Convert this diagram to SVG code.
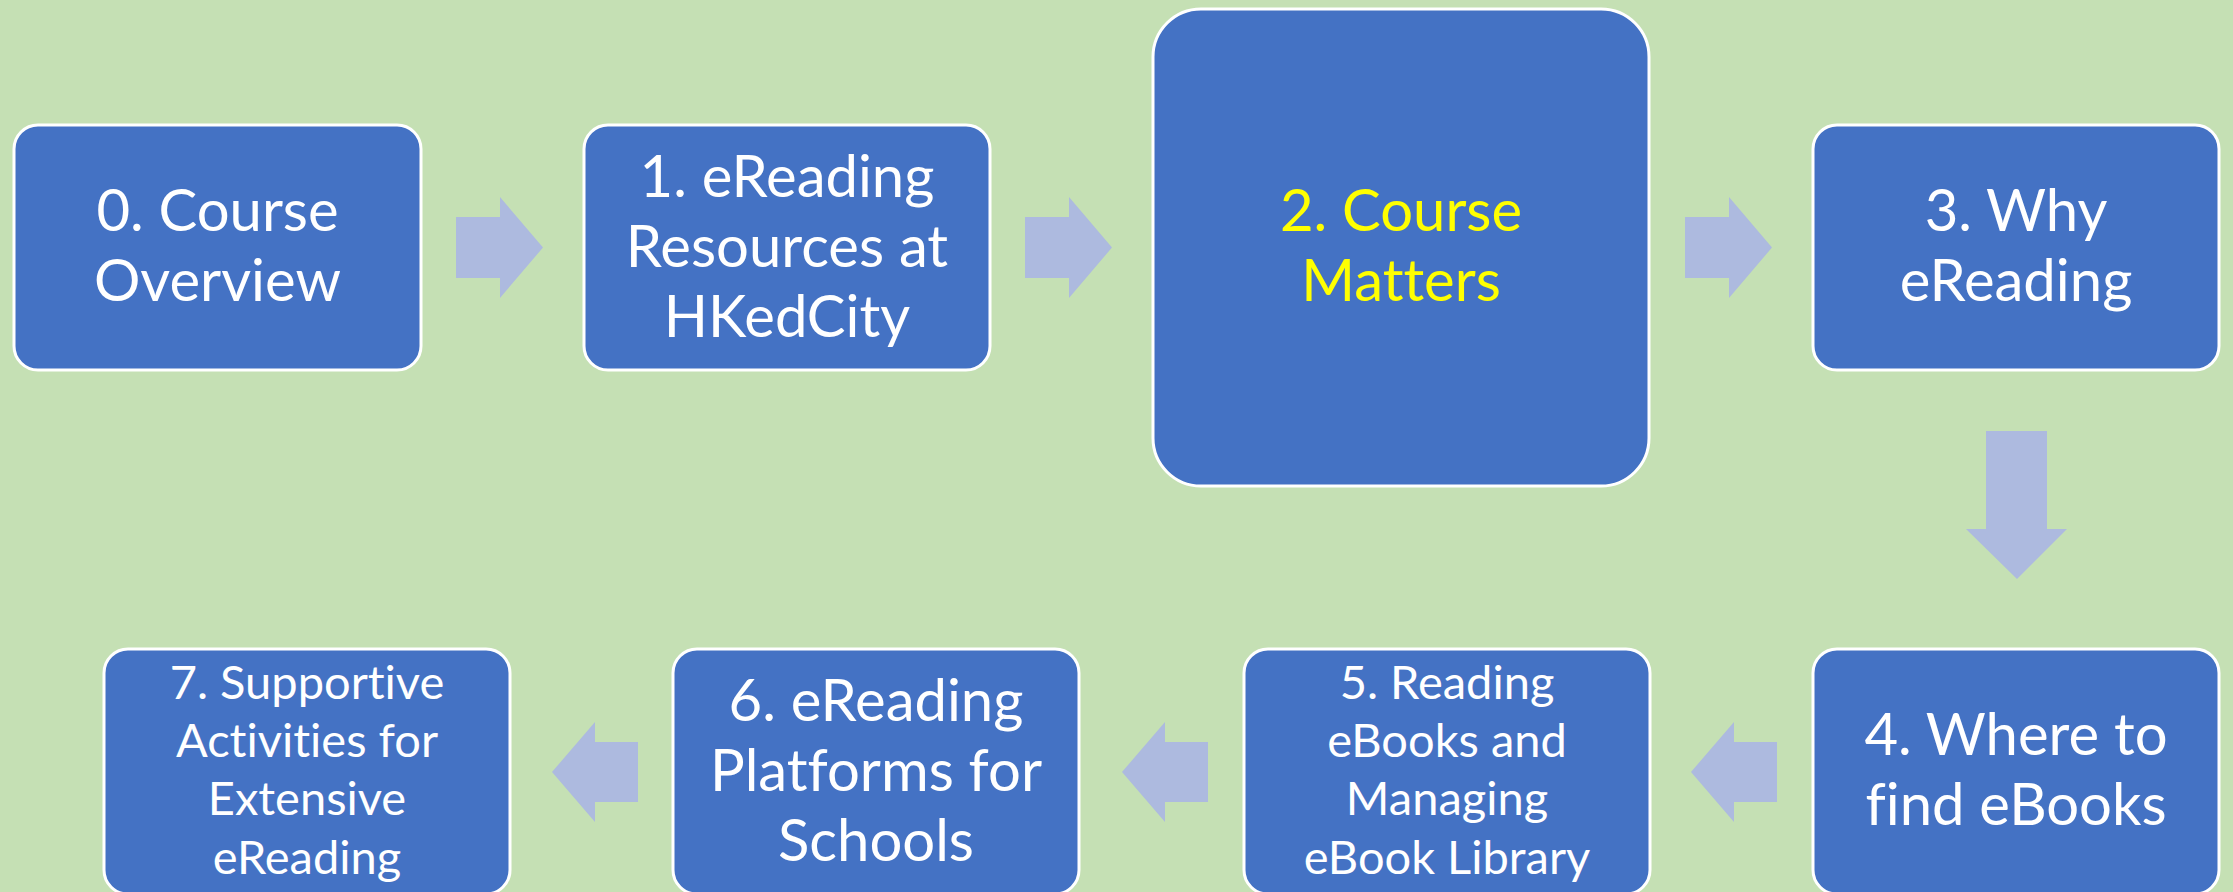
<svg xmlns="http://www.w3.org/2000/svg" width="2233" height="892" viewBox="0 0 2233 892">
<style>
.box{fill:#4472C4;stroke:#FFFFFF;stroke-width:3}
.arr{fill:#ADBADF}
.t{font-family:Lato,"Liberation Sans",sans-serif;font-size:58px;fill:#FFFFFF;text-anchor:middle;font-variant-ligatures:none}
.s{font-size:47px}
.y{fill:#FFFF00}
</style>
<rect x="0" y="0" width="2233" height="892" fill="#C5E0B4"/>
<g id="connectors">
<path class="arr" d="M456,217H500V197L543,247.5L500,298V278H456Z"/>
<path class="arr" d="M1025,217H1069V197L1112,247.5L1069,298V278H1025Z"/>
<path class="arr" d="M1685,217H1729V197L1772,247.5L1729,298V278H1685Z"/>
<path class="arr" d="M1986,431H2047V529H2067L2017,579L1966,529H1986Z"/>
<path class="arr" d="M1691,772L1734,722V742H1777V802H1734V822Z"/>
<path class="arr" d="M1122,772L1165,722V742H1208V802H1165V822Z"/>
<path class="arr" d="M552,772L595,722V742H638V802H595V822Z"/>
</g>
<g id="n0"><rect class="box" x="14" y="125" width="407" height="245" rx="24"/>
<text class="t" x="217.5" y="231">0. Course</text><text class="t" x="217.5" y="301">Overview</text></g>
<g id="n1"><rect class="box" x="584" y="125" width="406" height="245" rx="24"/>
<text class="t" x="787" y="197">1. eReading</text><text class="t" x="787" y="267">Resources at</text><text class="t" x="787" y="337">HKedCity</text></g>
<g id="n2"><rect class="box" x="1153" y="9" width="496" height="477" rx="48"/>
<text class="t y" x="1401" y="231">2. Course</text><text class="t y" x="1401" y="301">Matters</text></g>
<g id="n3"><rect class="box" x="1813" y="125" width="406" height="245" rx="24"/>
<text class="t" x="2016" y="231">3. Why</text><text class="t" x="2016" y="301">eReading</text></g>
<g id="n4"><rect class="box" x="1813" y="649" width="406" height="245" rx="24"/>
<text class="t" x="2016" y="755">4. Where to</text><text class="t" x="2016" y="825">find eBooks</text></g>
<g id="n5"><rect class="box" x="1244" y="649" width="406" height="245" rx="24"/>
<text class="t s" x="1447" y="699">5. Reading</text><text class="t s" x="1447" y="757">eBooks and</text><text class="t s" x="1447" y="815">Managing</text><text class="t s" x="1447" y="874">eBook Library</text></g>
<g id="n6"><rect class="box" x="673" y="649" width="406" height="245" rx="24"/>
<text class="t" x="876" y="721">6. eReading</text><text class="t" x="876" y="791">Platforms for</text><text class="t" x="876" y="861">Schools</text></g>
<g id="n7"><rect class="box" x="104" y="649" width="406" height="245" rx="24"/>
<text class="t s" x="307" y="699">7. Supportive</text><text class="t s" x="307" y="757">Activities for</text><text class="t s" x="307" y="815">Extensive</text><text class="t s" x="307" y="874">eReading</text></g>
</svg>
